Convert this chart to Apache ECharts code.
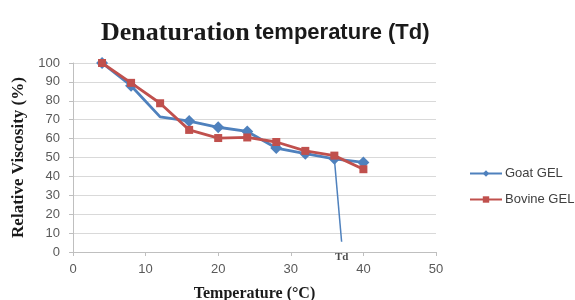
<!DOCTYPE html>
<html>
<head>
<meta charset="utf-8">
<script src="https://cdn.jsdelivr.net/npm/echarts@6/dist/echarts.min.js"></script>
<style>
  html, body { margin: 0; padding: 0; background: #fff; }
  #chart { width: 575px; height: 300px; }
</style>
</head>
<body>
<div id="chart"></div>
<script>
// temperatures (°C) and relative viscosity (%)
const temps = [4, 8, 12, 16, 20, 24, 28, 32, 36, 40]
const goatGel = [100, 88, 71.5, 69.3, 66, 63.8, 55, 52, 49.3, 47.4]
const bovineGel = [100, 89.5, 78.7, 64.6, 60.3, 60.6, 58.2, 53.5, 51, 43.8]
// Td drop line drawn in the reference
const tdLine = [[36, 49.3], [37, 5.4]]
const tdLabel = [[37, 0]]

const chart = echarts.init(document.getElementById('chart'))

const goatData = temps.map((t, i) => {
  const item = { value: [t, goatGel[i]] }
  if (t === 12) item.symbol = 'none' // no marker at this bend
  return item
})
const bovineData = temps.map((t, i) => [t, bovineGel[i]])

const serif = '"Liberation Serif", "DejaVu Serif", serif'
const sans = '"Liberation Sans", Arial, sans-serif'

const options = {
  animation: false,
  title: {
    text: '{a|Denaturation} {b|temperature (Td)}',
    left: 96,
    top: 15,
    textStyle: {
      rich: {
        a: { fontFamily: serif, fontWeight: 'bold', fontSize: 26, color: '#1a1a1a' },
        b: { fontFamily: sans, fontWeight: 'bold', fontSize: 22, color: '#1a1a1a' },
      },
    },
  },
  legend: {
    orient: 'vertical',
    left: 464,
    top: 162,
    itemGap: 13,
    itemWidth: 32,
    itemHeight: 8,
    data: ['Goat GEL', 'Bovine GEL'],
    textStyle: { fontFamily: sans, fontSize: 13, color: '#404040', padding: [0, 0, 0, -2] },
  },
  grid: {
    left: 73,
    right: 139,
    top: 63,
    bottom: 48,
    containLabel: false,
    outerBoundsMode: 'none',
  },
  xAxis: {
    type: 'value',
    min: 0,
    max: 50,
    interval: 10,
    name: 'Temperature (°C)',
    nameLocation: 'middle',
    nameGap: 34,
    nameTextStyle: { fontFamily: serif, fontWeight: 'bold', fontSize: 16, color: '#1a1a1a' },
    axisLine: { lineStyle: { color: '#bfbfbf', width: 1 } },
    axisTick: { show: true, length: 4, lineStyle: { color: '#bfbfbf' } },
    axisLabel: { fontFamily: sans, fontSize: 13, color: '#595959', margin: 11 },
    splitLine: { show: false },
  },
  yAxis: {
    type: 'value',
    min: 0,
    max: 100,
    interval: 10,
    name: 'Relative Viscosity (%)',
    nameLocation: 'middle',
    nameGap: 46,
    nameTextStyle: { fontFamily: serif, fontWeight: 'bold', fontSize: 17, color: '#1a1a1a' },
    axisLine: { show: true, lineStyle: { color: '#bfbfbf', width: 1 } },
    axisTick: { show: true, length: 4, lineStyle: { color: '#bfbfbf' } },
    axisLabel: { fontFamily: sans, fontSize: 13, color: '#595959', margin: 13 },
    splitLine: { show: true, lineStyle: { color: '#d9d9d9', width: 1 } },
  },
  series: [
    {
      name: 'Td',
      type: 'line',
      data: tdLine,
      symbol: 'none',
      lineStyle: { color: '#4F81BD', width: 1.5 },
      z: 1,
    },
    {
      name: 'Goat GEL',
      type: 'line',
      data: goatData,
      symbol: 'diamond',
      symbolSize: 12,
      itemStyle: { color: '#4F81BD' },
      lineStyle: { color: '#4F81BD', width: 2.8 },
      z: 2,
    },
    {
      name: 'Bovine GEL',
      type: 'line',
      data: bovineData,
      symbol: 'rect',
      symbolSize: 8,
      itemStyle: { color: '#C0504D' },
      lineStyle: { color: '#C0504D', width: 2.8 },
      z: 3,
    },
    {
      name: 'TdLabel',
      type: 'scatter',
      data: tdLabel,
      symbolSize: 0,
      label: {
        show: true,
        formatter: 'Td',
        position: 'bottom',
        distance: 0,
        fontFamily: serif,
        fontWeight: 'bold',
        fontSize: 11,
        color: '#1a1a1a',
      },
      silent: true,
      z: 4,
    },
  ],
}

chart.setOption(options, true)
</script>
</body>
</html>
